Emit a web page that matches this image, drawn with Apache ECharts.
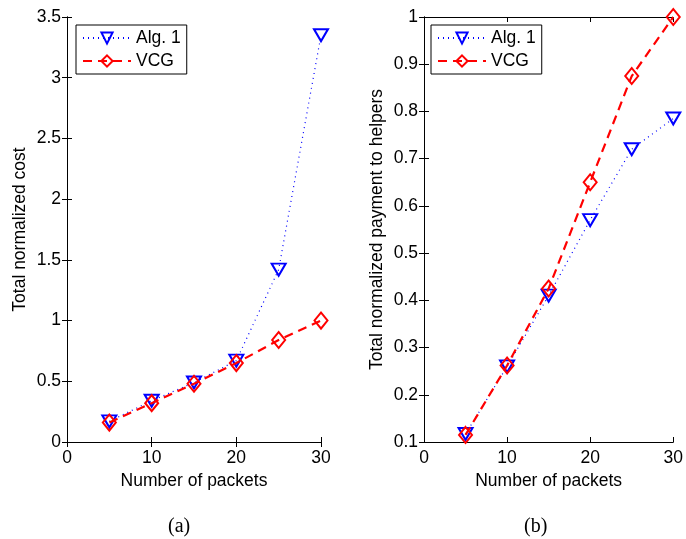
<!DOCTYPE html>
<html>
<head>
<meta charset="utf-8">
<script src="https://cdn.jsdelivr.net/npm/echarts@6/dist/echarts.min.js"></script>
<style>
  html, body { margin: 0; padding: 0; background: #fff; }
  #chart { width: 686px; height: 539px; }
</style>
</head>
<body>
<div id="chart"></div>
<script>
const packets = [5, 10, 15, 20, 25, 30];
const costAlg1 = [0.17, 0.34, 0.49, 0.67, 1.42, 3.35];
const costVCG = [0.16, 0.32, 0.48, 0.65, 0.84, 1.0];
const payAlg1 = [0.117, 0.26, 0.41, 0.57, 0.72, 0.785];
const payVCG = [0.115, 0.262, 0.425, 0.65, 0.875, 1.0];

const font = "Liberation Sans, Arial, sans-serif";
const serif = "Liberation Serif, Times New Roman, serif";
const fs = 17.5;
const triDown = "path://M0,0 L10,0 L5,9 Z";

function pairs(xs, ys) {
  return xs.map((x, i) => [x, ys[i]]);
}

function xAxes(gi) {
  const base = {
    type: "value", min: 0, max: 30, interval: 10, gridIndex: gi,
    axisLine: { lineStyle: { color: "#000", width: 1 } },
    axisTick: { inside: true, length: 5, lineStyle: { color: "#000" } },
    splitLine: { show: false },
  };
  return [
    Object.assign({}, base, {
      position: "bottom",
      name: "Number of packets", nameLocation: "middle", nameGap: 29,
      nameTextStyle: { fontFamily: font, fontSize: fs, color: "#000" },
      axisLabel: { fontFamily: font, fontSize: fs, color: "#000", margin: 7 },
    }),
    Object.assign({}, base, { position: "top", axisLabel: { show: false } }),
  ];
}

function yAxes(gi, min, max, interval, name, fmt) {
  const base = {
    type: "value", min: min, max: max, interval: interval, gridIndex: gi,
    axisLine: { show: true, lineStyle: { color: "#000", width: 1 } },
    axisTick: { show: true, inside: true, length: 5, lineStyle: { color: "#000" } },
    splitLine: { show: false },
  };
  return [
    Object.assign({}, base, {
      position: "left",
      name: name, nameLocation: "middle", nameGap: 38,
      nameTextStyle: { fontFamily: font, fontSize: fs, color: "#000" },
      axisLabel: { fontFamily: font, fontSize: fs, color: "#000", margin: 6, formatter: fmt },
    }),
    Object.assign({}, base, { position: "right", axisLabel: { show: false } }),
  ];
}

function alg(gi, data) {
  return {
    name: "Alg. 1", type: "line", xAxisIndex: gi * 2, yAxisIndex: gi * 2,
    data: data, symbol: triDown, symbolSize: [14, 12], showAllSymbol: true,
    itemStyle: { color: "rgba(255,255,255,0)", borderColor: "#0000ff", borderWidth: 2 },
    lineStyle: { color: "#0000ff", width: 1.2, type: [1, 4] },
    z: 2,
  };
}

function vcg(gi, data) {
  return {
    name: "VCG", type: "line", xAxisIndex: gi * 2, yAxisIndex: gi * 2,
    data: data, symbol: "diamond", symbolSize: [13, 16],
    itemStyle: { color: "rgba(255,255,255,0)", borderColor: "#ff0000", borderWidth: 2 },
    lineStyle: { color: "#ff0000", width: 2.2, type: [9, 6] },
    z: 3,
  };
}

function legend(left) {
  return {
    left: left, top: 25, orient: "vertical",
    backgroundColor: "#fff", borderColor: "#000", borderWidth: 1,
    padding: [4, 6, 4, 6], itemGap: 5, itemWidth: 48, itemHeight: 14,
    textStyle: { fontFamily: font, fontSize: fs, color: "#000" },
    data: ["Alg. 1", "VCG"],
  };
}

const chart = echarts.init(document.getElementById("chart"), null, { renderer: "canvas" });
chart.setOption({
  animation: false,
  backgroundColor: "#fff",
  grid: [
    { left: 67, right: 365, top: 17, bottom: 97 },
    { left: 424, right: 8, top: 17, bottom: 97 },
  ],
  legend: [legend(76), legend(431)],
  xAxis: xAxes(0).concat(xAxes(1)),
  yAxis: yAxes(0, 0, 3.5, 0.5, "Total normalized cost", v => String(v))
    .concat(yAxes(1, 0.1, 1, 0.1, "Total normalized payment to helpers",
      v => (Math.abs(v - 1) < 1e-9 ? "1" : v.toFixed(1)))),
  title: [
    { text: "(a)", left: 163, top: 512,
      textStyle: { fontFamily: serif, fontSize: 20, fontWeight: "normal", color: "#000" } },
    { text: "(b)", left: 519, top: 512,
      textStyle: { fontFamily: serif, fontSize: 20, fontWeight: "normal", color: "#000" } },
  ],
  series: [
    alg(0, pairs(packets, costAlg1)),
    vcg(0, pairs(packets, costVCG)),
    alg(1, pairs(packets, payAlg1)),
    vcg(1, pairs(packets, payVCG)),
  ],
});
</script>
</body>
</html>
